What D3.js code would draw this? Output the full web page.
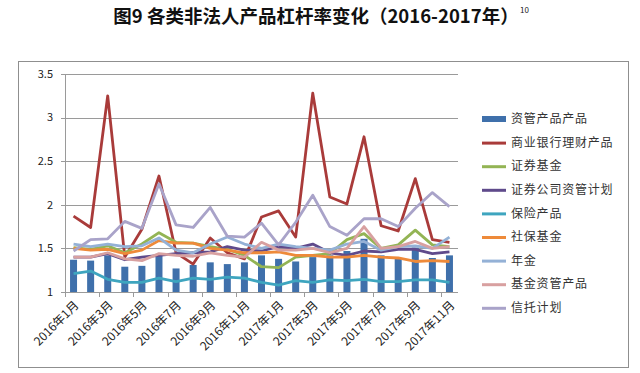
<!DOCTYPE html>
<html>
<head>
<meta charset="utf-8">
<script src="https://cdn.jsdelivr.net/npm/d3@7"></script>
<style>
  body { margin: 0; background: #fff; }
  text { font-family: "Noto Sans CJK SC", "Noto Sans", sans-serif; }
</style>
</head>
<body>
<svg id="chart" width="640" height="373"></svg>
<script>
// months 2016年1月 .. 2017年11月
var months = [];
for (var yr = 2016; yr <= 2017; yr++) {
  for (var m = 1; m <= 12; m++) {
    if (yr === 2017 && m === 12) break;
    months.push(yr + "年" + m + "月");
  }
}

var yTicks = [1, 1.5, 2, 2.5, 3, 3.5];

// bar series
var ziguan = [1.37, 1.36, 1.42, 1.29, 1.30, 1.43, 1.27, 1.31, 1.34, 1.32, 1.34, 1.42, 1.38, 1.35, 1.40, 1.42, 1.47, 1.61, 1.42, 1.38, 1.51, 1.39, 1.42];

// line series
var yinhang   = [1.87, 1.74, 3.25, 1.40, 1.72, 2.33, 1.45, 1.32, 1.62, 1.45, 1.38, 1.86, 1.93, 1.63, 3.28, 2.09, 2.01, 2.78, 1.76, 1.70, 2.30, 1.60, 1.57];
var zqjijin    = [1.51, 1.49, 1.53, 1.45, 1.55, 1.68, 1.57, 1.56, 1.52, 1.49, 1.42, 1.29, 1.28, 1.40, 1.42, 1.44, 1.60, 1.67, 1.50, 1.54, 1.71, 1.54, 1.52];
var zqzigan    = [1.40, 1.40, 1.44, 1.37, 1.40, 1.42, 1.44, 1.45, 1.46, 1.52, 1.48, 1.47, 1.52, 1.50, 1.55, 1.45, 1.42, 1.47, 1.46, 1.49, 1.49, 1.44, 1.46];
var baoxian    = [1.21, 1.24, 1.145, 1.11, 1.11, 1.16, 1.12, 1.16, 1.145, 1.17, 1.16, 1.11, 1.08, 1.13, 1.11, 1.14, 1.13, 1.145, 1.12, 1.12, 1.14, 1.14, 1.11];
var shebao     = [1.50, 1.48, 1.49, 1.44, 1.48, 1.59, 1.56, 1.56, 1.50, 1.48, 1.45, 1.45, 1.46, 1.42, 1.42, 1.40, 1.40, 1.42, 1.40, 1.39, 1.35, 1.36, 1.35];
var nianjin    = [1.55, 1.52, 1.55, 1.52, 1.53, 1.62, 1.48, 1.45, 1.55, 1.63, 1.55, 1.50, 1.55, 1.52, 1.50, 1.48, 1.55, 1.58, 1.48, 1.52, 1.53, 1.50, 1.63];
var jjzigan    = [1.40, 1.40, 1.45, 1.38, 1.36, 1.44, 1.42, 1.41, 1.45, 1.42, 1.40, 1.57, 1.48, 1.48, 1.50, 1.45, 1.50, 1.75, 1.50, 1.52, 1.58, 1.50, 1.52];
var xintuo     = [1.47, 1.60, 1.61, 1.81, 1.73, 2.24, 1.77, 1.74, 1.97, 1.64, 1.63, 1.79, 1.54, 1.80, 2.11, 1.75, 1.65, 1.84, 1.84, 1.75, 1.96, 2.14, 1.98];

var barName = "资管产品产品";
var lineNames = ["商业银行理财产品", "证券基金", "证券公司资管计划", "保险产品", "社保基金", "年金", "基金资管产品", "信托计划"];
var lineValues = [yinhang, zqjijin, zqzigan, baoxian, shebao, nianjin, jjzigan, xintuo];
var barColor = "#3f70ab";
var lineColors = ["#a93b3a", "#93b454", "#5f4a8b", "#3ea5bf", "#ee8a3a", "#94b1d6", "#d8a0a0", "#a9a3c9"];

var svg = d3.select("#chart");

// outer frame
svg.append("rect")
    .attr("x", 18.5).attr("y", 61.5)
    .attr("width", 610).attr("height", 306)
    .attr("fill", "none").attr("stroke", "#8f8f8f");

// title
svg.append("text")
    .attr("x", 316).attr("y", 23)
    .attr("text-anchor", "middle")
    .attr("font-size", 18.5).attr("font-weight", "bold")
    .attr("fill", "#111")
    .text("图9 各类非法人产品杠杆率变化（2016-2017年）");
svg.append("text")
    .attr("x", 520).attr("y", 13)
    .attr("font-size", 8).attr("fill", "#222")
    .text("10");

var plotLeft = 65, plotRight = 458, plotTop = 74, plotBottom = 292;

var x = d3.scaleBand().domain(months).range([plotLeft, plotRight]).paddingInner(0).paddingOuter(0);
var y = d3.scaleLinear().domain([1, 3.5]).range([plotBottom, plotTop]);

// gridlines
svg.append("g")
  .selectAll("line")
  .data(yTicks.slice(1))
  .enter().append("line")
    .attr("x1", plotLeft - 4).attr("x2", plotRight)
    .attr("y1", function(d) { return Math.round(y(d)) + 0.5; })
    .attr("y2", function(d) { return Math.round(y(d)) + 0.5; })
    .attr("stroke", "#9a9a9a");

// axes lines
svg.append("line")
    .attr("x1", plotLeft + 0.5).attr("x2", plotLeft + 0.5)
    .attr("y1", plotTop).attr("y2", plotBottom)
    .attr("stroke", "#9a9a9a");
svg.append("line")
    .attr("x1", plotLeft - 4).attr("x2", plotRight)
    .attr("y1", plotBottom + 0.5).attr("y2", plotBottom + 0.5)
    .attr("stroke", "#9a9a9a");

svg.append("g")
  .selectAll("text")
  .data(yTicks)
  .enter().append("text")
    .attr("x", 53)
    .attr("y", function(d) { return y(d); })
    .attr("dy", "0.35em")
    .attr("text-anchor", "end")
    .attr("font-size", 11).attr("fill", "#222")
    .text(function(d) { return d; });

// x ticks every 2 categories
var tickIdx = d3.range(0, months.length, 2);
svg.append("g")
  .selectAll("line")
  .data(tickIdx)
  .enter().append("line")
    .attr("x1", function(i) { return Math.round(x(months[i])) + 0.5; })
    .attr("x2", function(i) { return Math.round(x(months[i])) + 0.5; })
    .attr("y1", plotBottom).attr("y2", plotBottom + 5)
    .attr("stroke", "#9a9a9a");

svg.append("g")
  .selectAll("text")
  .data(tickIdx)
  .enter().append("text")
    .attr("transform", function(i) {
      return "translate(" + (x(months[i]) + x.bandwidth() / 2 + 3) + "," + (plotBottom + 11) + ")rotate(-45)";
    })
    .attr("text-anchor", "end")
    .attr("dy", "0.35em")
    .attr("font-size", 12).attr("fill", "#222")
    .text(function(i) { return months[i]; });

// bars
var bw = 7;
svg.append("g")
  .selectAll("rect")
  .data(ziguan)
  .enter().append("rect")
    .attr("x", function(d, i) { return x(months[i]) + x.bandwidth() / 2 - bw / 2; })
    .attr("y", function(d) { return y(d); })
    .attr("width", bw)
    .attr("height", function(d) { return y(1) - y(d); })
    .attr("fill", barColor);

// lines
var line = d3.line()
    .x(function(d, i) { return x(months[i]) + x.bandwidth() / 2; })
    .y(function(d) { return y(d); });

svg.append("g")
  .selectAll("path")
  .data(lineValues)
  .enter().append("path")
    .attr("d", line)
    .attr("fill", "none")
    .attr("stroke", function(d, i) { return lineColors[i]; })
    .attr("stroke-width", 2.8)
    .attr("stroke-linejoin", "round");

// legend
var legend = svg.append("g")
  .selectAll("g")
  .data([barName].concat(lineNames))
  .enter().append("g")
    .attr("transform", function(d, i) { return "translate(482," + (119 + i * 23.6) + ")"; });

legend.each(function(d, i) {
  var g = d3.select(this);
  if (i === 0) {
    g.append("rect").attr("x", 0).attr("y", -3).attr("width", 24).attr("height", 6).attr("fill", barColor);
  } else {
    g.append("line").attr("x1", 0).attr("x2", 24).attr("y1", 0.5).attr("y2", 0.5)
      .attr("stroke", lineColors[i - 1]).attr("stroke-width", 3);
  }
});

legend.append("text")
    .attr("x", 29)
    .attr("dy", "0.35em")
    .attr("font-size", 12).attr("letter-spacing", "0.8px").attr("fill", "#333")
    .text(function(d) { return d; });
</script>
</body>
</html>
